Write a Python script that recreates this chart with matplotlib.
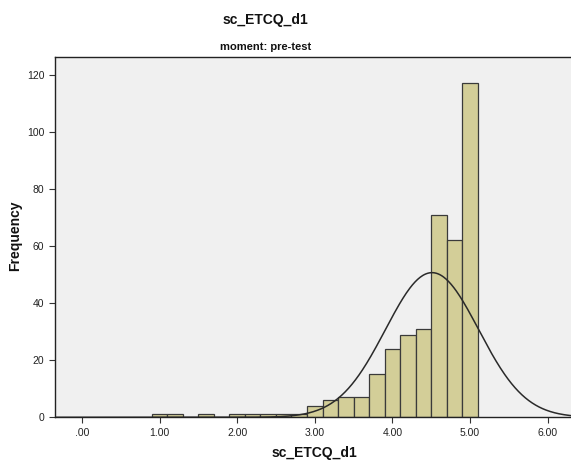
import numpy as np
import matplotlib
matplotlib.use("Agg")
import matplotlib.pyplot as plt

plt.rcParams['font.family'] = ['Liberation Sans', 'DejaVu Sans']

# Data
bin_centers = [1.0, 1.2, 1.4, 1.6, 1.8, 2.0, 2.2, 2.4, 2.6, 2.8, 3.0,
               3.2, 3.4, 3.6, 3.8, 4.0, 4.2, 4.4, 4.6, 4.8, 5.0]
counts = [1, 1, 0, 1, 0, 1, 1, 1, 1, 1, 4,
          6, 7, 7, 15, 24, 29, 31, 71, 62, 117]
bin_width = 0.2
normal_mean = 4.51
normal_sd = 0.60
n_total = sum(counts)

x_ticks = [0, 1, 2, 3, 4, 5, 6]
x_tick_labels = ['.00', '1.00', '2.00', '3.00', '4.00', '5.00', '6.00']
y_ticks = [0, 20, 40, 60, 80, 100, 120]

fig = plt.figure(figsize=(5.71, 4.61), dpi=100)
ax = fig.add_axes([54.7/571, 1-417.3/461, 1-54.7/571, (417.3-56.7)/461])
ax.set_facecolor('#f0f0f0')

ax.bar(bin_centers, counts, width=bin_width, color='#d3ce98',
       edgecolor='#3a3a3a', linewidth=0.9, zorder=2)

xs = np.linspace(-0.35, 6.3, 600)
pdf = n_total * bin_width / (normal_sd * np.sqrt(2*np.pi)) * np.exp(-0.5*((xs-normal_mean)/normal_sd)**2)
ax.plot(xs, pdf, color='#2a2a2a', linewidth=1.1, zorder=3)

ax.set_xlim(-0.35, 6.3)
ax.set_ylim(0, 126.3)
ax.set_xticks(x_ticks)
ax.set_xticklabels(x_tick_labels)
ax.set_yticks(y_ticks)
ax.tick_params(axis='both', direction='out', length=4, width=0.8,
               colors='#333333', labelsize=7.5, labelcolor='#222222')
for s in ['left', 'bottom', 'top']:
    ax.spines[s].set_color('#222222')
    ax.spines[s].set_linewidth(1.0)
ax.spines['right'].set_visible(False)

fig.text(265/571, 1-20/461, 'sc_ETCQ_d1', ha='center', va='center',
         fontsize=10, fontweight='bold', color='#111111')
fig.text(266/571, 1-46.7/461, 'moment: pre-test', ha='center', va='center',
         fontsize=8, fontweight='bold', color='#111111')
fig.text(314/571, 1-453/461, 'sc_ETCQ_d1', ha='center', va='center',
         fontsize=10, fontweight='bold', color='#111111')
fig.text(15/571, 1-236/461, 'Frequency', ha='center', va='center',
         rotation=90, fontsize=10, fontweight='bold', color='#111111')

fig.savefig('out.png', dpi=100)
